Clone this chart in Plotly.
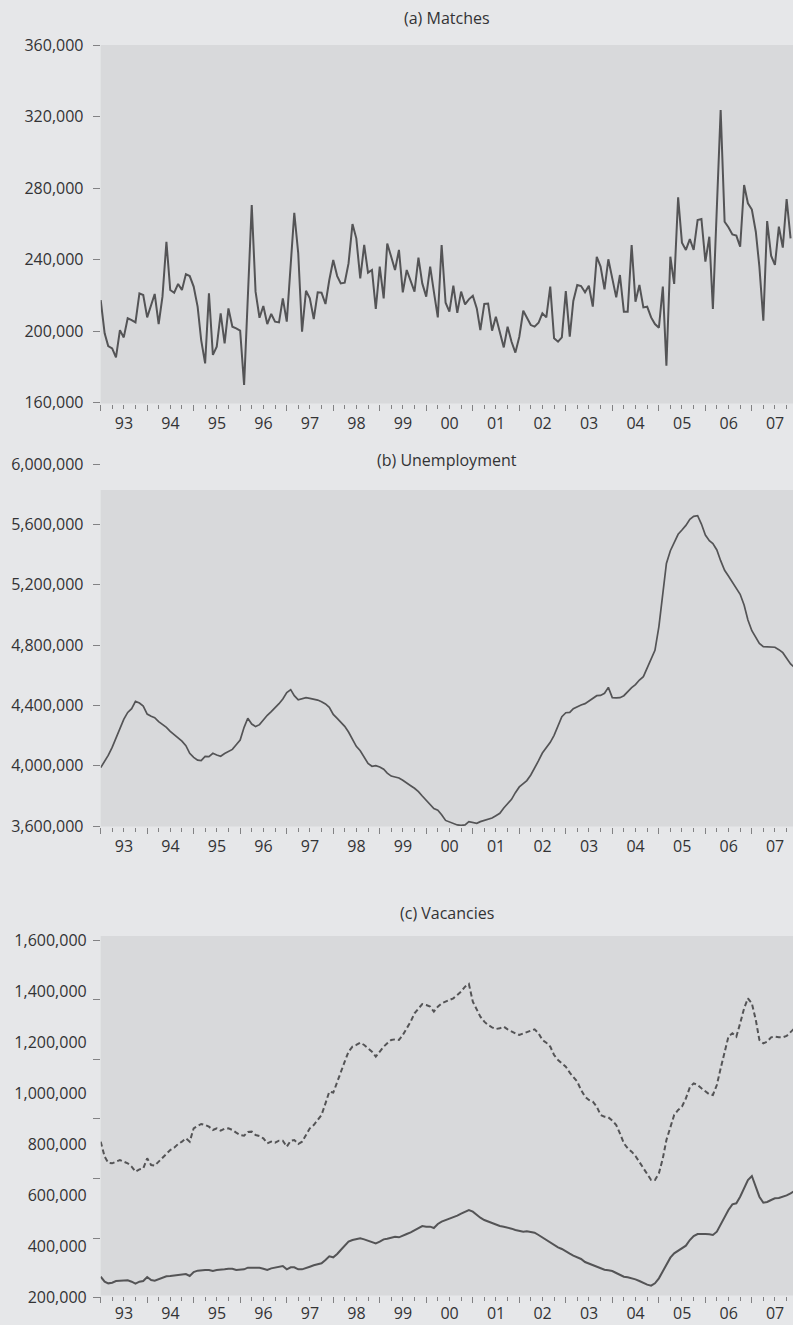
import pandas as pd
import plotly.graph_objects as go

START = "1993-01-01"
X_END = "2007-11-20"

# ---------------- data (thousands, monthly from Jan 1993) ----------------
matches_k = [
    217.4, 198.8, 191.7, 190.4, 185.3, 200.6, 196.5, 207.2, 206.2, 204.9,
    221.1, 220.2, 207.7, 214.6, 220.8, 204.0, 219.3, 250.0, 223.0, 221.5,
    226.4, 223.0, 231.9, 230.8, 224.9, 213.7, 195.0, 182.0, 221.1, 186.7,
    191.3, 210.0, 193.2, 212.7, 202.5, 201.6, 200.3, 169.9, 220.2, 270.5,
    222.1, 207.5, 214.1, 204.0, 209.6, 205.3, 204.9, 218.3, 205.3, 236.1,
    266.2, 243.5, 199.7, 222.6, 218.3, 206.8, 221.7, 221.5, 215.2, 228.6,
    239.8, 230.8, 226.7, 227.1, 237.9, 259.9, 251.9, 229.5, 248.2, 232.7,
    234.2, 212.4, 236.1, 218.3, 249.0, 241.6, 234.2, 245.4, 221.7, 234.2,
    228.0, 222.1, 241.1, 226.7, 219.3, 236.1, 222.1, 207.7, 248.2, 215.9,
    210.9, 225.4, 210.3, 222.1, 215.0, 217.8, 219.8, 212.7, 200.6, 215.2,
    215.4, 200.3, 208.1, 200.1, 190.9, 202.5, 194.1, 188.0, 196.9, 211.4,
    207.2, 203.4, 202.5, 204.7, 210.0, 207.7, 224.9, 196.0, 194.1, 196.5,
    222.4, 196.9, 216.9, 225.8, 225.2, 221.7, 225.4, 213.7, 241.6, 236.1,
    223.4, 240.2, 229.5, 218.9, 231.4, 210.9, 210.9, 248.2, 216.5, 225.8,
    213.3, 213.7, 207.7, 204.0, 201.9, 224.9, 180.7, 241.6, 226.4, 274.8,
    249.5, 245.4, 251.5, 245.4, 262.1, 262.7, 238.9, 252.8, 212.4, 268.0,
    323.7, 261.2, 258.1, 254.1, 253.4, 247.2, 281.7, 271.5, 268.0, 255.6,
    236.1, 205.9, 261.6, 242.2, 237.0, 258.4, 246.7, 273.9, 251.9,
]

unemployment_k = [
    3987, 4026, 4068, 4121, 4181, 4236, 4307, 4353, 4378, 4426,
    4415, 4395, 4342, 4327, 4318, 4292, 4274, 4254, 4228, 4208,
    4188, 4163, 4133, 4082, 4055, 4037, 4033, 4062, 4060, 4082,
    4071, 4062, 4080, 4095, 4108, 4139, 4170, 4254, 4314, 4276,
    4259, 4272, 4305, 4334, 4358, 4382, 4411, 4442, 4484, 4504,
    4464, 4437, 4442, 4451, 4446, 4440, 4435, 4424, 4409, 4387,
    4340, 4314, 4289, 4261, 4223, 4170, 4128, 4099, 4053, 4015,
    3996, 4000, 3991, 3976, 3951, 3931, 3925, 3918, 3903, 3883,
    3867, 3850, 3828, 3799, 3768, 3739, 3715, 3704, 3675, 3637,
    3626, 3615, 3607, 3604, 3607, 3629, 3626, 3618, 3629, 3637,
    3640, 3653, 3668, 3684, 3719, 3748, 3777, 3821, 3859, 3881,
    3901, 3938, 3980, 4033, 4084, 4121, 4155, 4201, 4259, 4325,
    4351, 4353, 4378, 4393, 4402, 4411, 4429, 4451, 4464, 4466,
    4480, 4519, 4451, 4449, 4451, 4464, 4493, 4517, 4537, 4568,
    4590, 4645, 4707, 4765, 4922, 5143, 5341, 5425, 5474, 5534,
    5562, 5593, 5633, 5653, 5657, 5602, 5529, 5492, 5472, 5430,
    5359, 5295, 5257, 5213, 5176, 5136, 5065, 4966, 4895, 4851,
    4811, 4789, 4789, 4787, 4785, 4769, 4749, 4712, 4674, 4652,
]

vacancies_solid_k = [
    282.3, 262.7, 256.2, 258.8, 265.3, 266.6, 265.3, 267.9, 262.7, 254.9,
    262.7, 265.3, 281.0, 269.2, 266.6, 271.9, 278.4, 283.6, 284.9, 287.5,
    288.8, 291.4, 292.7, 284.9, 300.6, 305.8, 308.4, 308.4, 308.4, 304.5,
    308.4, 308.4, 311.0, 313.6, 313.6, 308.4, 308.4, 311.0, 317.5, 317.5,
    314.9, 317.5, 313.6, 308.4, 314.9, 317.5, 318.8, 324.1, 311.0, 318.8,
    318.8, 311.0, 311.0, 317.5, 321.4, 326.7, 330.6, 334.5, 347.5, 361.9,
    358.0, 371.0, 386.7, 402.3, 419.3, 425.8, 428.4, 432.4, 428.4, 423.2,
    418.0, 412.8, 419.3, 428.4, 431.1, 436.3, 438.9, 436.3, 444.1, 449.3,
    455.8, 465.0, 474.1, 480.6, 478.0, 478.0, 472.8, 488.4, 497.6, 502.8,
    509.3, 514.5, 521.1, 528.9, 535.4, 543.2, 536.7, 523.7, 513.2, 504.1,
    497.6, 491.1, 484.6, 480.6, 478.0, 475.4, 470.2, 465.0, 461.0, 458.4,
    459.7, 458.4, 454.5, 445.4, 436.3, 425.8, 414.1, 404.9, 397.1, 390.6,
    382.8, 372.3, 364.5, 359.3, 351.5, 339.7, 333.2, 329.3, 321.4, 314.9,
    309.7, 307.1, 304.5, 296.7, 288.8, 282.3, 279.7, 277.1, 271.9, 265.3,
    257.5, 251.0, 247.1, 256.2, 275.8, 305.8, 331.9, 356.7, 373.6, 384.1,
    393.2, 403.6, 425.8, 441.5, 449.3, 450.6, 449.3, 448.0, 445.4, 458.4,
    488.4, 515.8, 543.2, 565.4, 569.3, 595.4, 630.6, 660.7, 676.3, 630.6,
    595.4, 571.9, 574.6, 582.4, 588.9, 590.2, 594.1, 600.6, 608.5, 617.6,
]

vacancies_dashed_k = [
    810.7, 752.0, 728.5, 725.9, 732.4, 739.0, 732.4, 725.9, 712.9, 693.3,
    702.4, 706.3, 745.5, 719.4, 716.8, 732.4, 749.4, 765.0, 778.1, 787.2,
    801.6, 810.7, 823.7, 810.7, 862.9, 872.0, 879.9, 875.9, 869.4, 856.4,
    862.9, 853.8, 861.6, 862.9, 856.4, 846.0, 836.8, 834.2, 848.6, 849.9,
    836.8, 832.9, 823.7, 804.2, 810.7, 806.8, 814.6, 814.6, 791.1, 814.6,
    817.2, 801.6, 810.7, 836.8, 862.9, 875.9, 895.5, 915.1, 960.7, 1006.4,
    1002.5, 1041.6, 1084.7, 1123.8, 1163.0, 1182.5, 1189.1, 1198.2, 1189.1, 1176.0,
    1163.0, 1143.4, 1163.0, 1182.5, 1195.6, 1208.6, 1211.2, 1208.6, 1228.2, 1254.3,
    1280.4, 1313.0, 1332.6, 1349.5, 1345.6, 1339.1, 1319.5, 1339.1, 1352.2, 1358.7,
    1365.2, 1371.7, 1384.8, 1397.8, 1417.4, 1427.8, 1358.7, 1326.1, 1300.0, 1280.4,
    1267.3, 1258.2, 1251.7, 1254.3, 1260.8, 1250.4, 1241.3, 1234.7, 1228.2, 1234.7,
    1241.3, 1245.2, 1250.4, 1234.7, 1208.6, 1198.2, 1182.5, 1149.9, 1130.4, 1117.3,
    1104.3, 1080.8, 1062.5, 1045.6, 1012.9, 986.8, 973.8, 967.3, 947.7, 915.1,
    908.5, 905.9, 892.9, 875.9, 843.3, 804.2, 784.6, 771.6, 754.6, 732.4,
    706.3, 684.2, 660.7, 660.7, 686.8, 745.5, 817.2, 869.4, 915.1, 934.7,
    947.7, 980.3, 1023.4, 1039.0, 1032.5, 1019.5, 1006.4, 996.0, 993.4, 1032.5,
    1097.7, 1156.5, 1221.7, 1234.7, 1221.7, 1273.9, 1332.6, 1371.7, 1352.2, 1286.9,
    1208.6, 1195.6, 1202.1, 1219.1, 1221.7, 1219.1, 1219.1, 1224.3, 1241.3, 1254.3,
]

titles = ["(a) Matches", "(b) Unemployment", "(c) Vacancies"]
yticks_a = [160000, 200000, 240000, 280000, 320000, 360000]
yticks_b = [3600000, 4000000, 4400000, 4800000, 5200000, 5600000, 6000000]
yticks_c = [200000, 400000, 600000, 800000, 1000000, 1200000, 1400000, 1600000]
# panel (c) draws its 7 tick marks evenly over the plot box, independent of the labels
tickmarks_c = [0, 1, 2, 3, 4, 5, 6]

# ---------------- style ----------------
W, H = 793, 1325
OUT = "rgb(230,231,233)"
PLOT = "rgb(216,217,219)"
LINE = "rgb(84,84,86)"
TICK = "rgb(130,130,132)"
TXT = "rgb(51,51,53)"
FONT = "Open Sans"
FS = 16


def py(p):
    return 1 - p / H


X0 = 100.7 / W


def dates(n):
    return pd.date_range(START, periods=n, freq="MS")


def k(vals):
    return [v * 1000 for v in vals]


fig = go.Figure()
fig.add_trace(go.Scatter(x=dates(len(matches_k)), y=k(matches_k), mode="lines",
                         line=dict(color=LINE, width=2), xaxis="x", yaxis="y"))
fig.add_trace(go.Scatter(x=dates(len(unemployment_k)), y=k(unemployment_k), mode="lines",
                         line=dict(color=LINE, width=1.7), xaxis="x2", yaxis="y2"))
fig.add_trace(go.Scatter(x=dates(len(vacancies_dashed_k)), y=k(vacancies_dashed_k), mode="lines",
                         line=dict(color=LINE, width=2, dash="5px,3px"), xaxis="x3", yaxis="y3"))
fig.add_trace(go.Scatter(x=dates(len(vacancies_solid_k)), y=k(vacancies_solid_k), mode="lines",
                         line=dict(color=LINE, width=2), xaxis="x3", yaxis="y3"))
# empty carrier trace so the tick-mark-only overlay axis of panel (c) is drawn
fig.add_trace(go.Scatter(x=[], y=[], mode="lines", xaxis="x3", yaxis="y4",
                         hoverinfo="skip", showlegend=False))


def xax(pos_px, standoff):
    return dict(
        anchor="free", position=py(pos_px), domain=[X0, 1], range=[START, X_END], type="date",
        tickmode="linear", tick0=START, dtick="M12", tickformat="%y",
        ticklabelmode="period", ticks="outside", ticklen=6, tickwidth=1, tickcolor=TICK,
        minor=dict(dtick="M3", tick0=START, ticks="outside", ticklen=4, tickwidth=1,
                   tickcolor=TICK, showgrid=False),
        showgrid=False, zeroline=False, showline=False, automargin=False,
        tickfont=dict(family=FONT, size=FS, color=TXT), ticklabelstandoff=standoff,
    )


def yax(anchor, rng, dom, tv, ticks="outside", standoff=6):
    return dict(
        anchor=anchor, range=rng, domain=dom, tickmode="array", tickvals=tv,
        tickformat=",d", ticks=ticks, ticklen=7, tickwidth=1, tickcolor=TICK,
        showgrid=False, zeroline=False, showline=False, automargin=False,
        tickfont=dict(family=FONT, size=FS, color=TXT), ticklabelstandoff=standoff,
    )


y4 = dict(
    anchor="x3", overlaying="y3", range=[0, 6], domain=[py(1295.5), py(936)],
    tickmode="array", tickvals=tickmarks_c, showticklabels=False,
    ticks="outside", ticklen=7, tickwidth=1, tickcolor=TICK,
    showgrid=False, zeroline=False, showline=False, automargin=False,
)

fig.update_layout(
    width=W, height=H, template="none",
    paper_bgcolor=OUT, plot_bgcolor="rgba(0,0,0,0)",
    margin=dict(l=0, r=0, t=0, b=0), showlegend=False,
    font=dict(family=FONT, size=FS, color=TXT),
    xaxis=xax(403.5, -1), xaxis2=xax(826.5, -1), xaxis3=xax(1295.5, -3),
    yaxis=yax("x", [160000, 360000], [py(402.7), py(45)], yticks_a),
    yaxis2=yax("x2", [3600000, 6000000], [py(826), py(464)], yticks_b),
    yaxis3=yax("x3", [200000, 1600000], [py(1297.7), py(940)], yticks_c,
               ticks="", standoff=13),
    yaxis4=y4,
)

rects = [(45, 403.5), (490, 826.5), (936, 1295.5)]
fig.update_layout(shapes=[
    dict(type="rect", xref="paper", yref="paper", x0=X0, x1=1, y0=py(b), y1=py(t),
         fillcolor=PLOT, line=dict(width=0), layer="below")
    for t, b in rects
])

title_y = [18, 460, 913]
fig.update_layout(annotations=[
    dict(text=t, xref="paper", yref="paper", x=(X0 + 1) / 2, y=py(yy),
         xanchor="center", yanchor="middle", showarrow=False,
         font=dict(family=FONT, size=FS, color=TXT))
    for t, yy in zip(titles, title_y)
])

fig.write_html(
    "out.html",
    config={"displayModeBar": False, "staticPlot": True},
    post_script="document.body.style.margin='0';document.body.style.padding='0';"
                "document.body.style.overflow='hidden';"
                "document.body.style.background='" + OUT + "';",
)
